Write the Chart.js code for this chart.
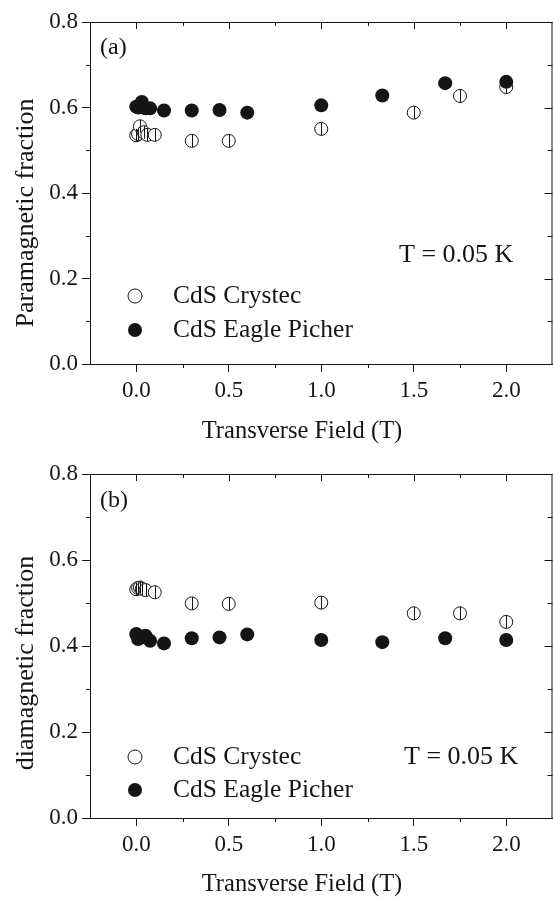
<!DOCTYPE html>
<html><head><meta charset="utf-8">
<script src="https://cdn.jsdelivr.net/npm/chart.js@4.4.0/dist/chart.umd.min.js"></script>
<style>
html,body{margin:0;padding:0;background:#fff;}
#wrap{width:553px;height:897px;overflow:hidden;position:relative;background:#fff;}
canvas{display:block;}
</style></head><body>
<div id="wrap">
<canvas id="c1" width="560" height="448"></canvas>
<canvas id="c2" width="560" height="449"></canvas>
</div>
<script>
// ---- data ----
const seriesNames = ['CdS Crystec', 'CdS Eagle Picher'];
const xTicks = [0, 0.5, 1.0, 1.5, 2.0];
const xMinorTicks = [0.25, 0.75, 1.25, 1.75];
const yTicks = [0, 0.2, 0.4, 0.6, 0.8];
const yMinorTicks = [0.1, 0.3, 0.5, 0.7];
const tempLabel = 'T = 0.05 K';
const xTitle = 'Transverse Field (T)';

// (a) paramagnetic fraction
const paraCrystecX = [0, 0.01, 0.02, 0.04, 0.06, 0.1, 0.3, 0.5, 1.0, 1.5, 1.75, 2.0];
const paraCrystecY = [0.535, 0.538, 0.556, 0.542, 0.536, 0.536, 0.522, 0.522, 0.550, 0.588, 0.627, 0.648];
const paraCrystecErr = [0.015, 0.015, 0.015, 0.015, 0.015, 0.015, 0.015, 0.015, 0.015, 0.015, 0.015, 0.015];
const paraEagleX = [0, 0.01, 0.03, 0.05, 0.075, 0.15, 0.3, 0.45, 0.6, 1.0, 1.33, 1.67, 2.0];
const paraEagleY = [0.602, 0.600, 0.613, 0.598, 0.598, 0.593, 0.593, 0.594, 0.588, 0.605, 0.628, 0.657, 0.660];

// (b) diamagnetic fraction
const diaCrystecX = [0, 0.01, 0.02, 0.03, 0.05, 0.1, 0.3, 0.5, 1.0, 1.5, 1.75, 2.0];
const diaCrystecY = [0.532, 0.535, 0.536, 0.533, 0.530, 0.525, 0.499, 0.498, 0.501, 0.476, 0.476, 0.456];
const diaCrystecErr = [0.015, 0.015, 0.015, 0.015, 0.015, 0.015, 0.015, 0.015, 0.015, 0.015, 0.015, 0.015];
const diaEagleX = [0, 0.01, 0.03, 0.05, 0.075, 0.15, 0.3, 0.45, 0.6, 1.0, 1.33, 1.67, 2.0];
const diaEagleY = [0.428, 0.416, 0.420, 0.424, 0.412, 0.406, 0.418, 0.420, 0.427, 0.414, 0.409, 0.418, 0.414];

// ---- drawing ----
const FONT = "'Liberation Serif', 'DejaVu Serif', serif";
const INK = '#151515';

function pts(xs, ys) { return xs.map((v, i) => ({x: v, y: ys[i]})); }

const decor = {
  id: 'decor',
  afterDatasetsDraw(chart, args, o) {
    const {ctx, scales: {x, y}} = chart;
    ctx.save();
    ctx.strokeStyle = INK; ctx.lineWidth = 1;
    ctx.beginPath();
    o.errX.forEach((xv, i) => {
      const px = Math.round(x.getPixelForValue(xv)) + 0.5;
      ctx.moveTo(px, y.getPixelForValue(o.errY[i] - o.err[i]));
      ctx.lineTo(px, y.getPixelForValue(o.errY[i] + o.err[i]));
    });
    ctx.stroke();
    ctx.restore();
  },
  afterDraw(chart, args, o) {
    const {ctx, chartArea: a, scales: {x, y}} = chart;
    ctx.save();
    ctx.strokeStyle = INK; ctx.lineWidth = 1;
    ctx.beginPath();
    // top & right frame
    ctx.moveTo(a.left, a.top + 0.5); ctx.lineTo(a.right, a.top + 0.5);
    ctx.moveTo(a.right - 0.5, a.top); ctx.lineTo(a.right - 0.5, a.bottom);
    // bottom minor (outward), top all (inward)
    xMinorTicks.forEach(v => {
      const px = Math.round(x.getPixelForValue(v)) + 0.5;
      ctx.moveTo(px, a.bottom); ctx.lineTo(px, a.bottom + 4);
      ctx.moveTo(px, a.top); ctx.lineTo(px, a.top + 4);
    });
    xTicks.forEach(v => {
      const px = Math.round(x.getPixelForValue(v)) + 0.5;
      ctx.moveTo(px, a.top); ctx.lineTo(px, a.top + 7);
    });
    // left minor (outward), right all (inward)
    yMinorTicks.forEach(v => {
      const py = Math.round(y.getPixelForValue(v)) + 0.5;
      ctx.moveTo(a.left - 4, py); ctx.lineTo(a.left, py);
      ctx.moveTo(a.right, py); ctx.lineTo(a.right - 5, py);
    });
    yTicks.forEach(v => {
      const py = Math.round(y.getPixelForValue(v)) + 0.5;
      ctx.moveTo(a.right, py); ctx.lineTo(a.right - 8, py);
    });
    ctx.stroke();

    ctx.fillStyle = INK;
    ctx.textBaseline = 'middle';
    // panel label
    ctx.font = '24px ' + FONT;
    ctx.textAlign = 'left';
    ctx.fillText(o.panel, o.panelPos[0], o.panelPos[1]);
    // temperature
    ctx.font = '26px ' + FONT;
    ctx.fillText(tempLabel, o.tempPos[0], o.tempPos[1]);
    // legend
    ctx.font = '25.5px ' + FONT;
    o.legendRows.forEach((ry, i) => {
      ctx.beginPath();
      ctx.arc(o.legendX, ry, 7, 0, Math.PI * 2);
      if (i === 0) { ctx.fillStyle = '#fff'; ctx.fill(); ctx.stroke(); }
      else { ctx.fillStyle = INK; ctx.fill(); }
      ctx.fillStyle = INK;
      ctx.fillText(seriesNames[i], o.legendX + 38, ry);
    });
    // axis titles
    ctx.font = '24.5px ' + FONT;
    ctx.textAlign = 'center';
    ctx.fillText(xTitle, o.xTitlePos[0], o.xTitlePos[1]);
    ctx.save();
    ctx.translate(o.yTitlePos[0], o.yTitlePos[1]);
    ctx.rotate(-Math.PI / 2);
    ctx.font = '26px ' + FONT;
    ctx.fillText(o.yTitle, 0, 0);
    ctx.restore();
    ctx.restore();
  }
};

function makeChart(id, cfg) {
  new Chart(document.getElementById(id), {
    type: 'scatter',
    data: {
      datasets: [
        {label: seriesNames[1], data: pts(cfg.eX, cfg.eY), pointStyle: 'circle',
         pointRadius: 7, pointHoverRadius: 7, backgroundColor: INK, borderColor: INK, borderWidth: 0},
        {label: seriesNames[0], data: pts(cfg.cX, cfg.cY), pointStyle: 'circle',
         pointRadius: 6.5, pointHoverRadius: 6.5, backgroundColor: '#fff', borderColor: INK, borderWidth: 1}
      ]
    },
    options: {
      responsive: false, animation: false, devicePixelRatio: 1,
      layout: {padding: {top: cfg.padTop, left: 0, right: 5, bottom: 0}},
      plugins: {
        legend: {display: false}, tooltip: {enabled: false},
        decor: cfg.decor
      },
      scales: {
        x: {
          type: 'linear', min: -0.25, max: 2.25,
          afterBuildTicks: s => { s.ticks = xTicks.map(v => ({value: v})); },
          afterFit: s => { s.height = cfg.xHeight; },
          ticks: {callback: v => Number(v).toFixed(1), color: INK, padding: 5,
                  font: {family: FONT, size: 23}, maxRotation: 0, autoSkip: false},
          grid: {display: true, drawOnChartArea: false, drawTicks: true, tickLength: 8, color: INK, lineWidth: 1},
          border: {display: true, color: INK, width: 1}
        },
        y: {
          type: 'linear', min: 0, max: 0.8,
          afterBuildTicks: s => { s.ticks = yTicks.map(v => ({value: v})); },
          afterFit: s => { s.width = 90; },
          ticks: {callback: v => Number(v).toFixed(1), color: INK, padding: 4,
                  font: {family: FONT, size: 23}},
          grid: {display: true, drawOnChartArea: false, drawTicks: true, tickLength: 8, color: INK, lineWidth: 1},
          border: {display: true, color: INK, width: 1}
        }
      }
    },
    plugins: [decor]
  });
}

makeChart('c1', {
  cX: paraCrystecX, cY: paraCrystecY, eX: paraEagleX, eY: paraEagleY,
  padTop: 22, xHeight: 84,
  decor: {
    errX: paraCrystecX, errY: paraCrystecY, err: paraCrystecErr,
    panel: '(a)', panelPos: [100, 48], tempPos: [399, 255],
    legendX: 135, legendRows: [296, 330],
    xTitlePos: [302, 432], yTitlePos: [26, 213], yTitle: 'Paramagnetic fraction'
  }
});
makeChart('c2', {
  cX: diaCrystecX, cY: diaCrystecY, eX: diaEagleX, eY: diaEagleY,
  padTop: 26, xHeight: 79,
  decor: {
    errX: diaCrystecX, errY: diaCrystecY, err: diaCrystecErr,
    panel: '(b)', panelPos: [100, 53], tempPos: [404, 309],
    legendX: 135, legendRows: [309, 342],
    xTitlePos: [302, 437], yTitlePos: [26, 215], yTitle: 'diamagnetic fraction'
  }
});
</script>
</body></html>
